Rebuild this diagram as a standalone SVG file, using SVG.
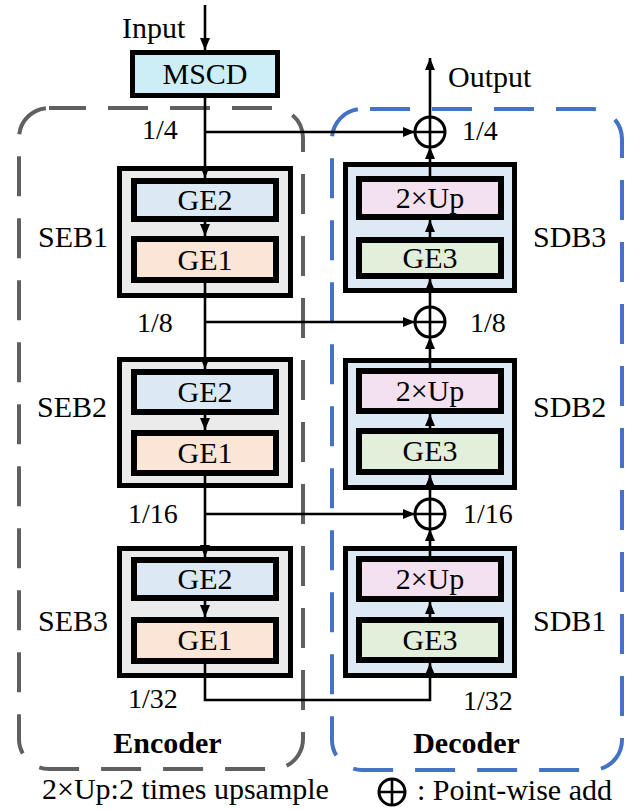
<svg xmlns="http://www.w3.org/2000/svg" width="631" height="811" viewBox="0 0 631 811">
  <style>
    text { font-family: "Liberation Serif", "Times New Roman", Tinos, "Nimbus Roman", "DejaVu Serif", serif; font-size: 30px; fill: #000; }
    .frac { font-size: 28px; }
    .bold { font-weight: bold; }
    .mid { text-anchor: middle; }
    .outer { stroke: #000; stroke-width: 5; }
    .inner { stroke: #000; stroke-width: 6; }
    .enc { fill: #ebebeb; }
    .dec { fill: #dde9f5; }
    .ge2 { fill: #dde8f5; }
    .ge1 { fill: #fbe5d6; }
    .up { fill: #f4e1ef; }
    .ge3 { fill: #e2efda; }
    .wire { fill: none; stroke: #000; stroke-width: 2.6; }
    .arr { marker-end: url(#head); }
    .add circle { fill: none; stroke: #000; stroke-width: 3; }
    .add path { fill: none; stroke: #000; stroke-width: 2.6; }
  </style>
  <defs>
    <marker id="head" markerUnits="userSpaceOnUse" markerWidth="12" markerHeight="10" viewBox="0 0 12 10" refX="12" refY="5" orient="auto">
      <path d="M0,0 L12,5 L0,10 Z" fill="#000"/>
    </marker>
  </defs>

  <!-- encoder / decoder frames -->
  <g id="encoder-frame">
    <rect x="19" y="108" width="284" height="661" rx="30" fill="none" stroke="#606060" stroke-width="4" stroke-dasharray="40 22" stroke-dashoffset="3"/>
    <text class="bold mid" x="167.5" y="753" font-family="Liberation Serif, serif">Encoder</text>
  </g>
  <g id="decoder-frame">
    <rect x="332" y="109" width="290" height="661" rx="30" fill="none" stroke="#4472c4" stroke-width="4" stroke-dasharray="40 22" stroke-dashoffset="-8"/>
    <text class="bold mid" x="466.5" y="753">Decoder</text>
  </g>

  <!-- input stem -->
  <g id="mscd">
    <rect x="132.5" y="52.5" width="145" height="43" fill="#cdeef7" class="outer"/>
    <text class="mid" x="205" y="84">MSCD</text>
  </g>

  <!-- encoder blocks -->
  <g id="seb1">
    <rect class="outer enc" x="119.5" y="168.5" width="171" height="127"/>
    <rect class="inner ge2" x="134" y="181" width="142" height="38"/>
    <rect class="inner ge1" x="134" y="239" width="142" height="41"/>
    <text class="mid" x="205" y="210">GE2</text>
    <text class="mid" x="205" y="270">GE1</text>
    <text x="38" y="247">SEB1</text>
  </g>
  <g id="seb2">
    <rect class="outer enc" x="119.5" y="359.5" width="171" height="126"/>
    <rect class="inner ge2" x="134" y="372" width="142" height="40"/>
    <rect class="inner ge1" x="134" y="433" width="142" height="40"/>
    <text class="mid" x="205" y="402">GE2</text>
    <text class="mid" x="205" y="463">GE1</text>
    <text x="37" y="417">SEB2</text>
  </g>
  <g id="seb3">
    <rect class="outer enc" x="119.5" y="548.5" width="171" height="127"/>
    <rect class="inner ge2" x="134" y="560" width="142" height="38"/>
    <rect class="inner ge1" x="134" y="620" width="142" height="41"/>
    <text class="mid" x="205" y="589">GE2</text>
    <text class="mid" x="205" y="650">GE1</text>
    <text x="38" y="631">SEB3</text>
  </g>

  <!-- decoder blocks -->
  <g id="sdb3">
    <rect class="outer dec" x="345.5" y="164.5" width="169" height="126"/>
    <rect class="inner up" x="359" y="179" width="142" height="38"/>
    <rect class="inner ge3" x="359" y="240" width="142" height="36"/>
    <text class="mid" x="430" y="208">2×Up</text>
    <text class="mid" x="430" y="268">GE3</text>
    <text x="533" y="247">SDB3</text>
  </g>
  <g id="sdb2">
    <rect class="outer dec" x="345.5" y="360.5" width="169" height="127"/>
    <rect class="inner up" x="359" y="371" width="142" height="40"/>
    <rect class="inner ge3" x="359" y="431" width="142" height="41"/>
    <text class="mid" x="430" y="401">2×Up</text>
    <text class="mid" x="430" y="461">GE3</text>
    <text x="533" y="417">SDB2</text>
  </g>
  <g id="sdb1">
    <rect class="outer dec" x="345.5" y="548.5" width="169" height="127"/>
    <rect class="inner up" x="359" y="559" width="142" height="40"/>
    <rect class="inner ge3" x="359" y="620" width="142" height="40"/>
    <text class="mid" x="430" y="589">2×Up</text>
    <text class="mid" x="430" y="650">GE3</text>
    <text x="533" y="631">SDB1</text>
  </g>

  <!-- point-wise add nodes -->
  <g id="add-quarter" class="add">
    <circle cx="430" cy="132" r="15"/>
    <path d="M415,132 H445 M430,117 V147"/>
  </g>
  <g id="add-eighth" class="add">
    <circle cx="430" cy="322" r="15"/>
    <path d="M415,322 H445 M430,307 V337"/>
  </g>
  <g id="add-sixteenth" class="add">
    <circle cx="430" cy="514" r="15"/>
    <path d="M415,514 H445 M430,499 V529"/>
  </g>

  <!-- connectors -->
  <g id="connectors">
    <path class="wire arr" d="M205,5 V50"/>
    <path class="wire arr" d="M205,98 V178"/>
    <path class="wire arr" d="M205,132 H415"/>
    <path class="wire arr" d="M205,222 V236"/>
    <path class="wire arr" d="M205,283 V369"/>
    <path class="wire arr" d="M205,322 H415"/>
    <path class="wire arr" d="M205,415 V430"/>
    <path class="wire arr" d="M205,476 V557"/>
    <path class="wire arr" d="M205,514 H415"/>
    <path class="wire arr" d="M205,601 V617"/>
    <path class="wire arr" d="M205,664 V700 H430 V663"/>
    <path class="wire arr" d="M430,617 V602"/>
    <path class="wire arr" d="M430,556 V529"/>
    <path class="wire arr" d="M430,499 V475"/>
    <path class="wire arr" d="M430,428 V414"/>
    <path class="wire arr" d="M430,368 V337"/>
    <path class="wire arr" d="M430,307 V279"/>
    <path class="wire arr" d="M430,237 V220"/>
    <path class="wire arr" d="M430,176 V147"/>
    <path class="wire arr" d="M430,117 V58"/>
  </g>

  <!-- scale labels -->
  <g id="labels">
    <text x="122" y="38">Input</text>
    <text x="448" y="87">Output</text>
    <text class="frac" x="142" y="139">1/4</text>
    <text class="frac" x="137" y="332">1/8</text>
    <text class="frac" x="128" y="523">1/16</text>
    <text class="frac" x="128" y="708">1/32</text>
    <text class="frac" x="462" y="140">1/4</text>
    <text class="frac" x="470" y="332">1/8</text>
    <text class="frac" x="463" y="523">1/16</text>
    <text class="frac" x="463" y="710">1/32</text>
  </g>

  <!-- legend -->
  <g id="legend">
    <text x="42" y="799">2×Up:2 times upsample</text>
    <g class="add">
      <circle cx="392" cy="792" r="13"/>
      <path d="M379,792 H405 M392,779 V805"/>
    </g>
    <text x="417" y="800">: Point-wise add</text>
  </g>
</svg>
